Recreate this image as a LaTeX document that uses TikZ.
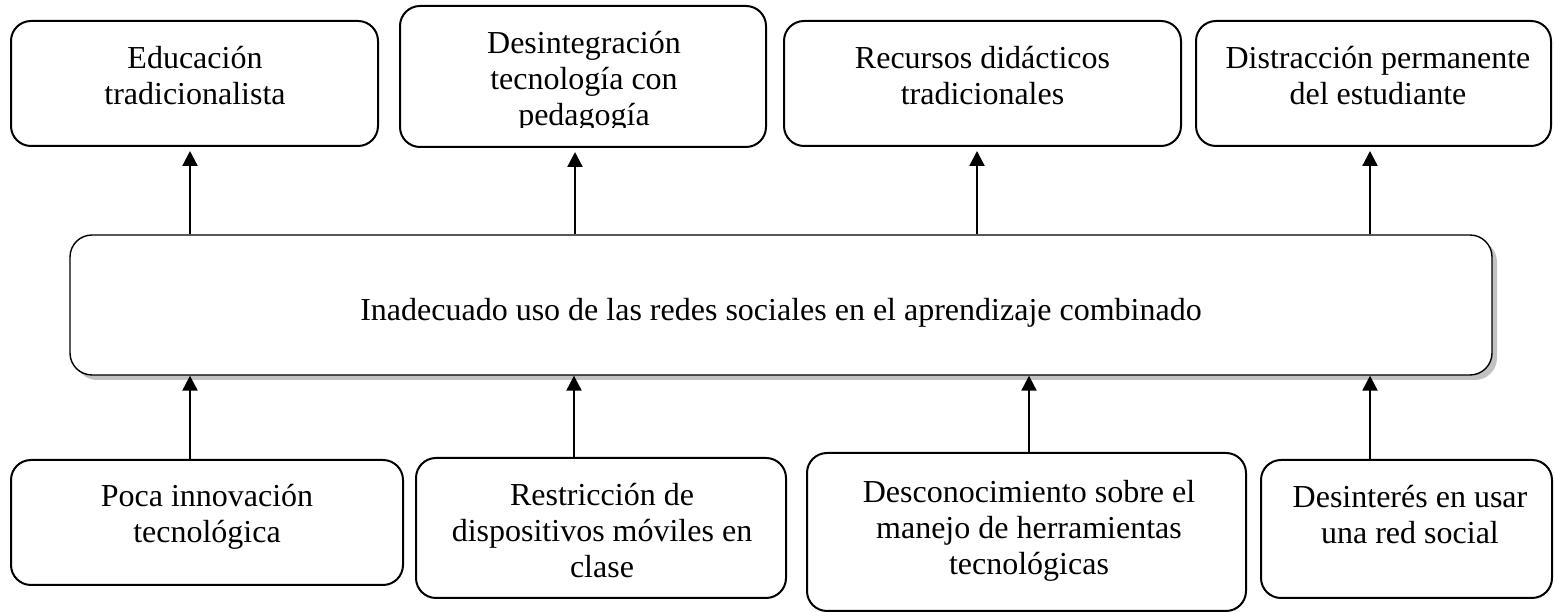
\documentclass[tikz,border=0pt]{standalone}
\usepackage{fontspec}
\setmainfont{Liberation Serif}
\usetikzlibrary{arrows.meta,shadows}

\newcommand\PX{0.5pt}

\begin{document}
\begin{tikzpicture}[x=0.5pt, y=-0.5pt,
  caja/.style={draw, line width=1pt, rounded corners=10pt, inner sep=0pt},
  central/.style={caja, line width=0.7pt, rounded corners=11pt, fill=white,
    general shadow={fill=black!24, shadow xshift=2.5pt, shadow yshift=-2.5pt}},
  texto/.style={align=center, inner sep=0pt, font=\fontsize{16}{18}\selectfont},
  flecha/.style={line width=1.1pt, -{Triangle[length=7.5pt,width=7.5pt]}}]

  \useasboundingbox (0,0) rectangle (1554,613);

  % efectos
  \node[caja, minimum width=367*\PX, minimum height=125*\PX] (educ) at (194.5, 83.5) {};
  \node[texto, anchor=north] (educ-t) at (195, 46) {Educación\\tradicionalista};
  \node[caja, minimum width=366*\PX, minimum height=141*\PX] (desint) at (583, 76.5) {};
  \begin{scope}
    \clip (desint.north west) rectangle (desint.east |- 0,128);
    \node[texto, anchor=north] (desint-t) at (584, 31) {Desintegración\\tecnología con\\pedagogía};
  \end{scope}
  \node[caja, minimum width=397*\PX, minimum height=125*\PX] (recur) at (982.5, 83.5) {};
  \node[texto, anchor=north] (recur-t) at (982.5, 46) {Recursos didácticos\\tradicionales};
  \node[caja, minimum width=355*\PX, minimum height=125*\PX] (distr) at (1373.5, 83.5) {};
  \node[texto, anchor=north] (distr-t) at (1378, 46) {Distracción permanente\\del estudiante};

  % problema
  \node[central, minimum width=1422*\PX, minimum height=140*\PX] (prob) at (781, 305) {};
  \node[texto, anchor=base] (prob-t) at (781, 320.5)
    {Inadecuado uso de las redes sociales en el aprendizaje combinado};

  % causas
  \node[caja, minimum width=392*\PX, minimum height=125*\PX] (poca) at (207, 522.5) {};
  \node[texto, anchor=north] (poca-t) at (207, 484) {Poca innovación\\tecnológica};
  \node[caja, minimum width=370*\PX, minimum height=140*\PX] (restr) at (601, 528) {};
  \node[texto, anchor=north] (restr-t) at (602, 483) {Restricción de\\dispositivos móviles en\\clase};
  \node[caja, minimum width=439*\PX, minimum height=158*\PX] (desc) at (1026.5, 532) {};
  \node[texto, anchor=north] (desc-t) at (1029, 480) {Desconocimiento sobre el\\manejo de herramientas\\tecnológicas};
  \node[caja, minimum width=291*\PX, minimum height=138*\PX] (desin) at (1406.5, 529) {};
  \node[texto, anchor=north] (desin-t) at (1410, 485) {Desinterés en usar\\una red social};

  \draw[flecha, shorten >=2pt] (prob.north -| 190,0) -- (educ.south -| 190,0); % prob->educ
  \draw[flecha, shorten >=2pt] (prob.north -| 575,0) -- (desint.south -| 575,0); % prob->desint
  \draw[flecha, shorten >=2pt] (prob.north -| 977,0) -- (recur.south -| 977,0); % prob->recur
  \draw[flecha, shorten >=2pt] (prob.north -| 1370,0) -- (distr.south -| 1370,0); % prob->distr

  \draw[flecha] (poca.north -| 190,0) -- (prob.south -| 190,0); % poca->prob
  \draw[flecha] (restr.north -| 574,0) -- (prob.south -| 574,0); % restr->prob
  \draw[flecha] (desc.north -| 1029,0) -- (prob.south -| 1029,0); % desc->prob
  \draw[flecha] (desin.north -| 1370,0) -- (prob.south -| 1370,0); % desin->prob

\end{tikzpicture}
\end{document}
